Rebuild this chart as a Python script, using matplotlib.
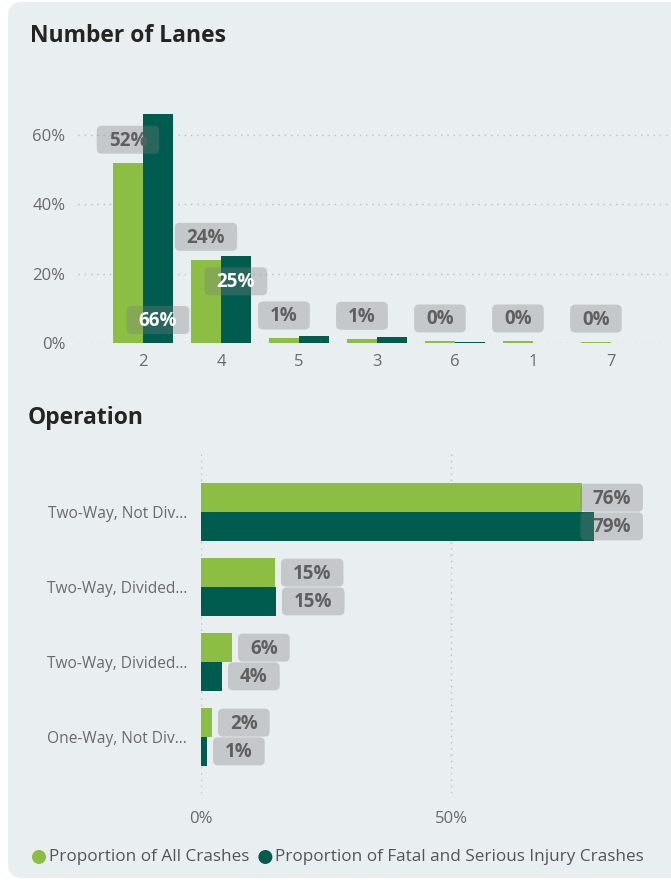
import matplotlib
matplotlib.use('Agg')
import matplotlib.pyplot as plt
from matplotlib.patches import FancyBboxPatch, Circle
from matplotlib.transforms import IdentityTransform
import numpy as np

plt.rcParams['font.family'] = ['Open Sans', 'DejaVu Sans']

# data (percent)
lanes = ['2', '4', '5', '3', '6', '1', '7']
lanes_all = [52.0, 24.0, 1.3, 1.2, 0.45, 0.45, 0.4]
lanes_fsi = [66.0, 25.0, 1.9, 1.6, 0.4, 0.0, 0.0]

operation = ['Two-Way, Not Div...', 'Two-Way, Divided...', 'Two-Way, Divided...', 'One-Way, Not Div...']
op_all = [76.2, 14.8, 6.2, 2.2]
op_fsi = [78.6, 15.0, 4.2, 1.2]

series_names = ['Proportion of All Crashes', 'Proportion of Fatal and Serious Injury Crashes']

GREEN = '#8BBE43'
DARK = '#005C4E'
BG = '#E9EEF1'
TICK = '#6A6A6A'
LBL = '#5F5F5F'
GRID = '#B8BEC4'

W, H = 671, 882
fig = plt.figure(figsize=(W / 100, H / 100), dpi=100)
fig.patch.set_facecolor('white')
ident = IdentityTransform()

# panel background
panel = FancyBboxPatch((8, 4), 700, 876, boxstyle='round,pad=0,rounding_size=14',
                       transform=ident, fc=BG, ec='none', zorder=0)
fig.add_artist(panel)

fig.text(30, H - 36, 'Number of Lanes', transform=ident, fontsize=16.5,
         fontweight='bold', color='#252423', va='center', ha='left')
fig.text(28, H - 418, 'Operation', transform=ident, fontsize=16.5,
         fontweight='bold', color='#252423', va='center', ha='left')

# ---- top chart: number of lanes
ax1 = fig.add_axes([78 / W, (H - 343) / H, (W - 78) / W, 242.7 / H])
ax1.set_facecolor('none')
x = np.arange(len(lanes))
bw = 0.385
ax1.bar(x - bw / 2, lanes_all, bw, color=GREEN, zorder=2)
ax1.bar(x + bw / 2, lanes_fsi, bw, color=DARK, zorder=2)
ax1.set_xlim(-0.833, 6.77)
ax1.set_ylim(0, 70)
ax1.set_yticks([0, 20, 40, 60])
ax1.set_yticklabels(['0%', '20%', '40%', '60%'])
ax1.set_xticks(x)
ax1.set_xticklabels(lanes)
ax1.tick_params(length=0, labelsize=12, labelcolor=TICK)
ax1.tick_params(axis='y', pad=9)
ax1.tick_params(axis='x', pad=8)
ax1.grid(axis='y', color=GRID, linestyle=(0, (1, 3.5)), linewidth=1, zorder=0)
for s in ax1.spines.values():
    s.set_visible(False)

# ---- bottom chart: operation
ax2 = fig.add_axes([201 / W, 89 / H, 450 / W, 340 / H])
ax2.set_facecolor('none')
y = np.arange(len(operation))
bh = 0.383
ax2.barh(y - bh / 2, op_all, bh, color=GREEN, zorder=2)
ax2.barh(y + bh / 2, op_fsi, bh, color=DARK, zorder=2)
ax2.set_xlim(0, 90)
ax2.set_ylim(3.747, -0.787)
ax2.set_xticks([0, 50])
ax2.set_xticklabels(['0%', '50%'])
ax2.set_yticks(y)
ax2.set_yticklabels(operation)
ax2.tick_params(length=0, labelsize=12, labelcolor=TICK)
ax2.tick_params(axis='y', pad=10, labelsize=11.2)
ax2.tick_params(axis='x', pad=13)
ax2.grid(axis='x', color=GRID, linestyle=(0, (1, 3.5)), linewidth=1, zorder=0)
for s in ax2.spines.values():
    s.set_visible(False)

renderer = fig.canvas.get_renderer()


def box_label(cx, cy, s, color, left=None, right_max=None):
    t = fig.text(0, 0, s, transform=ident, fontsize=13.5, fontweight='bold',
                 color=color, ha='center', va='center', zorder=6)
    tw = t.get_window_extent(renderer).width
    w = tw + 24
    if left is not None:
        if right_max is not None and left + w > right_max:
            left = right_max - w
        cx = left + w / 2
    t.set_position((cx, cy - 1))
    box = FancyBboxPatch((cx - w / 2, cy - 14), w, 28,
                         boxstyle='round,pad=0,rounding_size=5', transform=ident,
                         fc='#7A7D80', alpha=0.33, ec='none', zorder=5)
    fig.add_artist(box)


# top labels: all-crash labels above bars, a couple of fsi labels inside
for i, v in enumerate(lanes_all):
    px, py = ax1.transData.transform((x[i] - bw / 2, v))
    box_label(px, py + 23, f'{v:.0f}%', LBL)
fsi_label_pos = {0: 'base', 1: 'end'}
for i, where in fsi_label_pos.items():
    v = lanes_fsi[i]
    if where == 'base':
        px, py = ax1.transData.transform((x[i] + bw / 2, 0))
        py += 23
    else:
        px, py = ax1.transData.transform((x[i] + bw / 2, v))
        py -= 25
    box_label(px, py, f'{v:.0f}%', 'white')

# bottom labels: to the right of the bars, kept inside the plot
right_px = ax2.transData.transform((88.4, 0))[0]
for vals, off in [(op_all, -bh / 2), (op_fsi, bh / 2)]:
    for i, v in enumerate(vals):
        px, py = ax2.transData.transform((v, y[i] + off))
        box_label(None, py, f'{v:.0f}%', LBL, left=px + 6, right_max=right_px)

# legend
lx = 39
for name, col in zip(series_names, [GREEN, DARK]):
    fig.add_artist(Circle((lx, H - 857), 7, transform=ident, fc=col, ec='none'))
    t = fig.text(lx + 10, H - 857, name, transform=ident, fontsize=12.3,
                 color='#555555', ha='left', va='center')
    lx = t.get_window_extent(renderer).x1 + 16

fig.savefig('out.png', dpi=100)
